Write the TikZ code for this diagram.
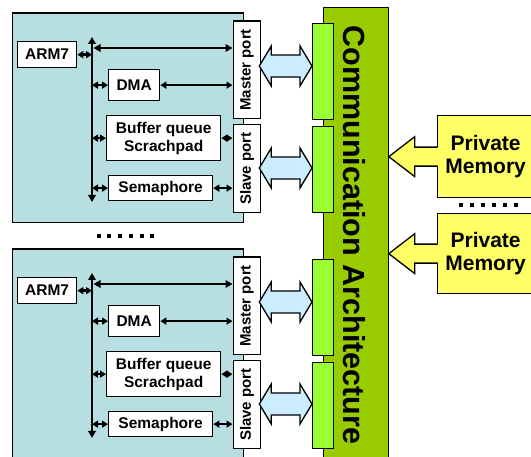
\documentclass[tikz,border=0pt]{standalone}
\usepackage{fontspec}
\setmainfont{Liberation Sans}
\usetikzlibrary{arrows.meta,calc}

\definecolor{peteal}{RGB}{183,222,224}
\definecolor{linkblue}{RGB}{204,236,255}
\definecolor{commgreen}{RGB}{153,204,0}
\definecolor{portgreen}{RGB}{153,255,51}
\definecolor{memyellow}{RGB}{255,255,102}

\tikzset{
  outline/.style={draw=black, line width=1.3pt},
  pebox/.style={outline, fill=peteal, anchor=north west, inner sep=0pt},
  unit/.style={outline, fill=white, anchor=north west, inner sep=0pt, align=center,
    font=\fontsize{15.5}{18}\selectfont\bfseries},
  portlabel/.style={rotate=90, inner sep=0pt, font=\fontsize{15}{18}\selectfont\bfseries},
  commbox/.style={outline, fill=commgreen, anchor=north west, inner sep=0pt},
  commlabel/.style={rotate=-90, inner sep=0pt, font=\fontsize{30.5}{36}\selectfont\bfseries},
  gatebox/.style={outline, fill=portgreen, anchor=north west, inner sep=0pt},
  membox/.style={outline, fill=memyellow, anchor=north west, inner sep=0pt, align=center,
    font=\fontsize{21}{23.5}\selectfont\bfseries},
  wire/.style={line width=2.3pt, {Triangle[length=6pt,width=7pt]}-{Triangle[length=6pt,width=7pt]}},
  busline/.style={line width=2.5pt, {Triangle[length=7pt,width=7.5pt]}-{Triangle[length=7pt,width=7.5pt]}},
  fatarrow/.style={outline, fill=linkblue, line join=miter},
  memarrow/.style={outline, line join=miter},
}

% wide double-headed link between two points on the same level
\newcommand\fatlink[2]{%
  \draw[fatarrow] let \p1=(#1), \p2=(#2) in
    (\x1,\y1) -- ({\x1+12pt},{\y1+20pt}) -- ({\x1+12pt},{\y1+11pt})
    -- ({\x2-12pt},{\y1+11pt}) -- ({\x2-12pt},{\y1+20pt}) -- (\x2,\y1)
    -- ({\x2-12pt},{\y1-20pt}) -- ({\x2-12pt},{\y1-11pt})
    -- ({\x1+12pt},{\y1-11pt}) -- ({\x1+12pt},{\y1-20pt}) -- cycle;}

% arrow growing out of a memory box: #1 tip, #2 west side of the box
\newcommand\memlink[2]{%
  \fill[memyellow] let \p1=(#1), \p2=(#2) in
    (\x1,\y1) -- ({\x1+26pt},{\y1+20pt}) -- ({\x1+26pt},{\y1+9.5pt})
    -- ({\x2+1.6pt},{\y1+9.5pt}) -- ({\x2+1.6pt},{\y1-9.5pt})
    -- ({\x1+26pt},{\y1-9.5pt}) -- ({\x1+26pt},{\y1-20pt}) -- cycle;
  \draw[memarrow] let \p1=(#1), \p2=(#2) in
    ({\x2+0.65pt},{\y1+9.5pt}) -- ({\x1+26pt},{\y1+9.5pt}) -- ({\x1+26pt},{\y1+20pt})
    -- (\x1,\y1) -- ({\x1+26pt},{\y1-20pt}) -- ({\x1+26pt},{\y1-9.5pt})
    -- ({\x2+0.65pt},{\y1-9.5pt});}

% one processing element: #1 name suffix, #2 vertical offset, #3 block height
\newcommand\peblock[3]{%
  \begin{scope}[shift={(0,#2)}]
    \node[pebox, minimum width=231pt, minimum height=#3] (pe#1) at (11.5,12.5) {};
    \node[unit, minimum width=59pt, minimum height=26pt] (arm#1) at (17,41) {ARM7};
    \node[unit, minimum width=51pt, minimum height=31pt] (dma#1) at (108,69) {DMA};
    \node[unit, minimum width=114pt, minimum height=45pt] (buf#1) at (106,115) {Buffer queue\\Scrachpad};
    \node[unit, minimum width=104pt, minimum height=25pt] (sem#1) at (108,175) {Semaphore};
    \node[unit, minimum width=27.5pt, minimum height=97.5pt] (mp#1) at (232.5,20.5) {};
    \node[portlabel] (mpt#1) at (mp#1.center) {Master port};
    \node[unit, minimum width=27.5pt, minimum height=88pt] (sp#1) at (232.5,124) {};
    \node[portlabel] (spt#1) at (sp#1.center) {Slave port};
    \node[gatebox, minimum width=21pt, minimum height=96pt] (gm#1) at (312,23) {};
    \node[gatebox, minimum width=21pt, minimum height=86pt] (gs#1) at (312,126) {};
    % local bus
    \coordinate (bt#1) at (92,37);
    \coordinate (bb#1) at (92,202);
    \coordinate (bm#1) at (93.5,48);
    \draw[wire] (arm#1.east) -- (arm#1.east -| bt#1);
    \draw[wire] (dma#1.west -| bt#1) -- (dma#1.west);
    \draw[wire] (dma#1.east) -- (dma#1.east -| mp#1.west);
    \draw[wire] (buf#1.west -| bt#1) -- (buf#1.west);
    \draw[wire] (buf#1.east) -- (buf#1.east -| sp#1.west);
    \draw[wire] (sem#1.west -| bt#1) -- (sem#1.west);
    \draw[wire] (sem#1.east) -- (sem#1.east -| sp#1.west);
    \draw[busline] (bm#1) -- (bm#1 -| mp#1.west);
    \draw[busline] (bt#1) -- (bb#1);
    % ports to the communication architecture
    \fatlink{$(mp#1.east |- 0,66)+(-2,0)$}{gm#1.west |- 0,66}
    \fatlink{$(sp#1.east |- 0,168)+(-2,0)$}{gs#1.west |- 0,168}
  \end{scope}}

\begin{document}
\begin{tikzpicture}[x=1pt,y=-1pt]
  \useasboundingbox (0,0) rectangle (531,457);
  \begin{scope}
    \clip (0,0) rectangle (531,457);
    % shared interconnect
    \node[commbox, minimum width=64.5pt, minimum height=470pt] (comm) at (323,7) {};
    \node[commlabel] (commt) at (354,235) {Communication Architecture};

    \peblock{1}{0}{209.5pt}
    \peblock{2}{236}{240pt}

    % private memories
    \node[membox, minimum width=96pt, minimum height=82pt] (pm1) at (437,115) {Private\\Memory};
    \node[membox, minimum width=96pt, minimum height=80pt] (pm2) at (437,213) {Private\\Memory};
    \memlink{pm1.west -| comm.east}{pm1.west}
    \memlink{pm2.west -| comm.east}{pm2.west}

    % ellipsis marks
    \foreach \k in {0,...,5} {
      \fill ({96.7+10.7*\k},233.7) rectangle ++(4,4);
      \fill ({458.7+11*\k},203) rectangle ++(4,4);
    }
  \end{scope}
\end{tikzpicture}
\end{document}
